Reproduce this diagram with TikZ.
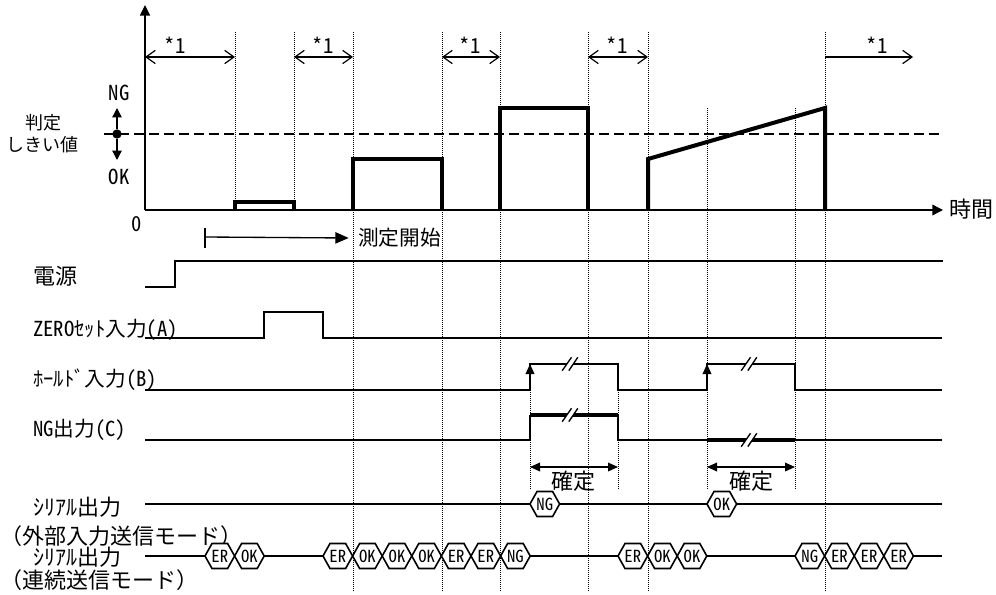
\documentclass[tikz,border=0pt]{standalone}
\usepackage{fontspec}
\newfontfamily\jp{Noto Sans CJK JP}
\newfontfamily\hw{Noto Sans CJK JP}[RawFeature=+hwid]
\usetikzlibrary{arrows.meta}
\tikzset{brk/.pic={
  \fill[white] (-7.8,6.7) -- (1.5,-6.7) -- (7.8,-6.7) -- (-1.2,6.7) -- cycle;
  \draw[line width=1pt] (-7.8,6.7) -- (1.5,-6.7) (-1.2,6.7) -- (7.8,-6.7);}}

\begin{document}
\begin{tikzpicture}[x=0.75pt, y=-0.75pt, >={Triangle[length=7.5pt,width=6.5pt]},
    sig/.style={line width=1pt},
    meas/.style={line width=3pt},
    guide/.style={line width=0.6pt, dash pattern=on 0.75pt off 0.75pt},
    lab/.style={font=\jp\fontsize{16.5}{18}\selectfont, inner sep=0pt},
    hlab/.style={font=\hw\fontsize{15.5}{17}\selectfont, inner sep=0pt},
    starr/.style={line width=0.9pt, {Straight Barb[length=7pt,width=10pt]}-{Straight Barb[length=7pt,width=10pt]}},
    hexa/.style={line width=1.2pt, fill=white},
    hexl/.style={font=\hw\fontsize{12.5}{13}\selectfont, inner sep=0pt}]
  \useasboundingbox (0,0) rectangle (996,595);

  \foreach \x in {235,294} \draw[guide] (\x,32) -- (\x,210);
  \foreach \x in {353,442,500,588,648,825} \draw[guide] (\x,32) -- (\x,592);
  \foreach \x in {707,795} \draw[guide] (\x,108) -- (\x,490);
  \foreach \x in {530,618} \draw[guide] (\x,364) -- (\x,490);

  % measured value
  \draw[line width=1.1pt, -{Triangle[length=8pt,width=7.5pt]}] (145,210) -- (145,5);
  \draw[line width=1.1pt, -{Triangle[length=8pt,width=8pt]}] (145,210) -- (943,210);
  \node[lab] (tm) at (971,209) {時間};
  \node[hlab] (zero) at (137,224) {0};
  \draw[line width=0.9pt, dash pattern=on 7.5pt off 3.75pt] (104,134) -- (943,134);
  \node[circle, fill, inner sep=0pt, minimum size=7pt] (thd) at (117,134) {};
  \draw[line width=1pt, -{Triangle[length=7pt,width=7pt]}] (thd) -- (117,108);
  \draw[line width=1pt, -{Triangle[length=7pt,width=7pt]}] (thd) -- (117,160);
  \node[hlab] (ng) at (119,93) {NG};
  \node[hlab] (ok) at (119,177) {OK};
  \node[font=\jp\fontsize{13.5}{16.5}\selectfont, inner sep=0pt, align=center] (thl) at (43,134) {判定\\しきい値};
  \foreach \a/\b/\c [count=\i] in {145/235/175,294/353/323,442/500/470,588/648/617}
    {\draw[starr] (\a,57) -- (\b,57); \node[hlab] (sp\i) at (\c,45) {*1};}
  \draw[line width=0.9pt, -{Straight Barb[length=7pt,width=10pt]}] (825,57) -- (913,57);
  \node[hlab] (sp5) at (877,45) {*1};
  \draw[meas] (235,210) |- (294,202) -- (294,210);
  \draw[meas] (353,210) |- (442,159) -- (442,210);
  \draw[meas] (500,210) |- (588,108) -- (588,210);
  \draw[meas] (648,210) -- (648,159) -- (825,108) -- (825,210);
  \node[lab, font=\jp\fontsize{15.5}{17}\selectfont, anchor=west] (start) at (358,238) {測定開始};
  \draw[line width=1pt] (205,228) -- (205,248);
  \draw[line width=1pt, -{Triangle[length=10pt,width=8.5pt]}] (205,237) -- ([xshift=-7pt]start.west);

  % timing chart
  \node[lab, anchor=west] (pw) at (33,276) {電源};
  \draw[sig] (145,287) -- (175,287) -- (175,261) -- (943,261);
  \node[hlab, anchor=base west] (zs) at (33,336) {ZEROｾｯﾄ入力(A)};
  \draw[sig] (145,338) -- (264,338) -- (264,312) -- (323,312) -- (323,338) -- (942,338);
  \node[hlab, anchor=base west] (hd) at (33,386) {ﾎｰﾙﾄﾞ入力(B)};
  \draw[sig] (145,390) -- (530,390) -- (530,364) -- (618,364) -- (618,390) -- (707,390)
    -- (707,364) -- (795,364) -- (795,390) -- (942,390);
  \draw[sig, ->] (530,390) -- (530,364);
  \draw[sig, ->] (707,390) -- (707,364);
  \pic at (570,364) {brk};
  \pic at (749,364) {brk};
  \node[hlab, anchor=base west] (ngo) at (33,436) {NG出力(C)};
  \draw[sig] (145,440) -- (530,440) -- (530,415);
  \draw[meas] (530,415) -- (618,415);
  \draw[sig] (618,415) -- (618,440) -- (707,440);
  \draw[meas] (707,440) -- (795,440);
  \draw[sig] (795,440) -- (942,440);
  \pic at (570,415) {brk};
  \pic at (749,440) {brk};
  \draw[sig, <->] (530,467) -- (618,467);
  \node[lab] (cf1) at (573,481) {確定};
  \draw[sig, <->] (707,467) -- (795,467);
  \node[lab] (cf2) at (751,481) {確定};

  % serial output
  \node[lab, anchor=west] (se1) at (33,507) {ｼﾘｱﾙ出力};
  \node[lab, anchor=west] (se1m) at (0,536) {（外部入力送信モード）};
  \draw[sig] (145,504) -- (942,504);
  \foreach \a/\t [count=\i] in {530/NG,707/OK}
    {\draw[hexa] (\a,504) -- ++(7,-12.5) -- ++(15.6,0) -- ++(7,12.5) -- ++(-7,12.5) -- ++(-15.6,0) -- cycle;
     \node[hexl] (es\i) at (\a+14.8,504) {\t};}
  \node[lab, anchor=west] (se2) at (33,557) {ｼﾘｱﾙ出力};
  \node[lab, anchor=west] (se2m) at (0,580) {（連続送信モード）};
  \draw[sig] (145,556) -- (942,556);
  \foreach \a/\t [count=\i] in {205/ER,234.6/OK,323/ER,352.6/OK,382.2/OK,411.8/OK,441.4/ER,471/ER,500.6/NG,
      618/ER,647.6/OK,677.2/OK,795/NG,824.6/ER,854.2/ER,883.8/ER}
    {\draw[hexa] (\a,556) -- ++(7,-12.5) -- ++(15.6,0) -- ++(7,12.5) -- ++(-7,12.5) -- ++(-15.6,0) -- cycle;
     \node[hexl] (cs\i) at (\a+14.8,556) {\t};}
\end{tikzpicture}
\end{document}
